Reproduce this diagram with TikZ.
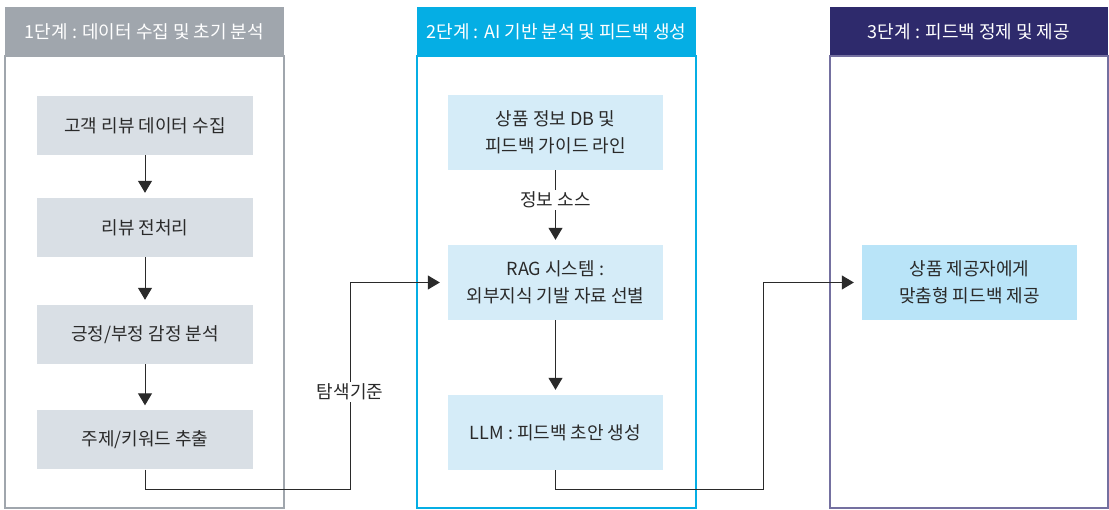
\documentclass[tikz,border=0pt]{standalone}
\usepackage{fontspec}
\setmainfont{Noto Sans CJK KR}
\usetikzlibrary{arrows.meta}

\definecolor{stepgray}{HTML}{A0A6AD}
\definecolor{stepcyan}{HTML}{05AEE4}
\definecolor{stepnavy}{HTML}{2E2A6C}
\definecolor{edgenavy}{HTML}{7470A0}
\definecolor{boxgray}{HTML}{D9DFE5}
\definecolor{boxsky}{HTML}{D5ECF8}
\definecolor{boxblue}{HTML}{B9E4F8}
\definecolor{txt}{HTML}{2A2A2A}

\tikzset{
  head/.style={text=white, font=\fontsize{18}{20}\selectfont},
  proc/.style={minimum width=216pt, inner sep=0pt, align=center, text=txt, font=\fontsize{18}{27}\selectfont},
  tag/.style={fill=white, inner sep=2pt, text=txt, font=\fontsize{18}{20}\selectfont},
  flow/.style={-{Triangle[length=12pt,width=14pt]}, line width=1pt, color=txt},
  link/.style={line width=1pt, color=txt}
}

\begin{document}
\begin{tikzpicture}[x=1pt,y=-1pt]
\useasboundingbox (0,0) rectangle (1109,510);
% stage frames
\fill[stepgray] (5,7) rectangle (284,56);
\draw[stepgray, line width=1.2pt] (5,56) rectangle (284,508);
\node[head] (h1) at (144.5,31.5) {1단계 : 데이터 수집 및 초기 분석};
\fill[stepcyan] (417,7) rectangle (696,56);
\draw[stepcyan, line width=1.2pt] (417,56) rectangle (696,508);
\node[head] (h2) at (556.5,31.5) {2단계 : AI 기반 분석 및 피드백 생성};
\fill[stepnavy] (830,7) rectangle (1108,56);
\draw[edgenavy, line width=1.2pt] (830,56) rectangle (1108,508);
\node[head] (h3) at (969,31.5) {3단계 : 피드백 정제 및 제공};

% stage 1
\node[proc, fill=boxgray, minimum height=59pt] (t1) at (145,125.5) {고객 리뷰 데이터 수집};
\node[proc, fill=boxgray, minimum height=59pt] (t2) at (145,227.5) {리뷰 전처리};
\node[proc, fill=boxgray, minimum height=59pt] (t3) at (145,334.5) {긍정/부정 감정 분석};
\node[proc, fill=boxgray, minimum height=59pt] (t4) at (145,440) {주제/키워드 추출};
\foreach \a/\b in {t1/t2,t2/t3,t3/t4}{
  \draw[flow, shorten >=5pt] (\a.south) -- (\b.north);
}

% stage 2
\node[proc, fill=boxsky, minimum width=215pt, minimum height=75pt] (db) at (555.5,132.5) {상품 정보 DB 및\\피드백 가이드 라인};
\node[proc, fill=boxsky, minimum width=215pt, minimum height=75pt] (rag) at (555.5,282.5) {RAG 시스템 :\\외부지식 기발 자료 선별};
\node[proc, fill=boxsky, minimum width=215pt, minimum height=75pt] (llm) at (555.5,432.5) {LLM : 피드백 초안 생성};
\node[tag] (src) at (555.5,200) {정보 소스};
\draw[link] (db.south) -- (src);
\draw[flow, shorten >=5pt] (src) -- (rag.north);
\draw[flow, shorten >=5pt] (rag.south) -- (llm.north);

% stage 3
\node[proc, fill=boxblue, minimum width=215pt, minimum height=75pt] (out) at (969.5,282.5) {상품 제공자에게\\맞춤형 피드백 제공};

% links between stages
\coordinate (c1) at (350,490);
\coordinate (c2) at (763,490);
\node[tag] (crit) at (350,392) {탐색기준};
\draw[link] (t4.south) |- (c1) -- (crit);
\draw[flow, shorten >=8pt] (crit) |- (rag.west);
\draw[flow, shorten >=8pt] (llm.south) |- (c2) |- (out.west);
\end{tikzpicture}
\end{document}
